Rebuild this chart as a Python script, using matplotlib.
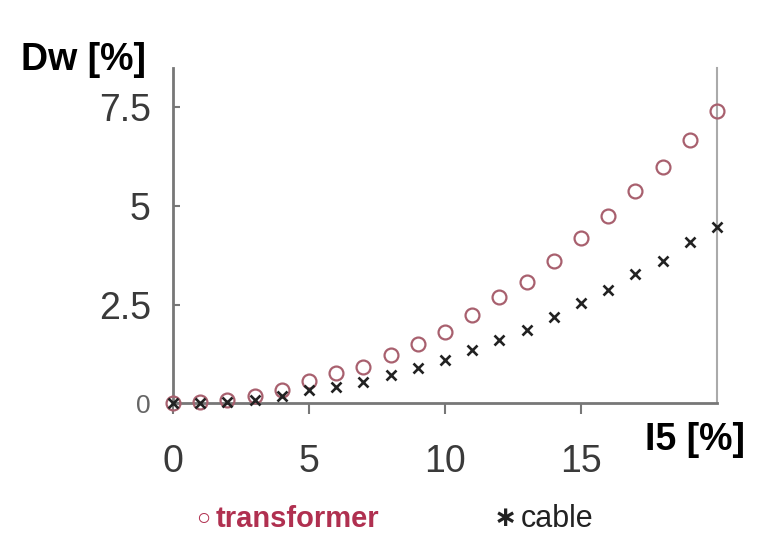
import numpy as np
import matplotlib.pyplot as plt

plt.rcParams['font.family'] = ['Liberation Sans', 'DejaVu Sans']

# I5 [%]
x_vals = [0, 1, 2, 3, 4, 5, 6, 7, 8, 9, 10, 11, 12, 13, 14, 15, 16, 17, 18, 19, 20]
# Dw [%]
transformer = [0.0, 0.05, 0.1, 0.18, 0.35, 0.56, 0.76, 0.92, 1.22, 1.5, 1.82,
               2.25, 2.7, 3.07, 3.6, 4.18, 4.75, 5.38, 6.0, 6.68, 7.4]
cable = [0.0, 0.02, 0.05, 0.1, 0.2, 0.33, 0.41, 0.54, 0.71, 0.89, 1.1,
         1.35, 1.6, 1.86, 2.2, 2.55, 2.88, 3.27, 3.6, 4.08, 4.46]

yticks = [0, 2.5, 5, 7.5]
ytick_labels = ['0', '2.5', '5', '7.5']
xticks = [0, 5, 10, 15]
xtick_labels = ['0', '5', '10', '15']

fig = plt.figure(figsize=(7.62, 5.34), dpi=100)
ax = fig.add_axes([0.227, 0.2444, 0.714, 0.6283])

ax.plot(x_vals, transformer, linestyle='none', marker='o', markersize=10,
        markerfacecolor='none', markeredgecolor='#a8606e', markeredgewidth=1.6,
        clip_on=False, zorder=3)
ax.plot(x_vals, cable, linestyle='none', marker='x', markersize=7,
        color='#222222', markeredgewidth=1.9, clip_on=False, zorder=4)

ax.set_xlim(0, 20)
ax.set_ylim(0, 8.5)

ax.spines['top'].set_visible(False)
for s in ['left', 'bottom']:
    ax.spines[s].set_color('#777777')
    ax.spines[s].set_linewidth(2)
ax.spines['right'].set_color('#aaaaaa')
ax.spines['right'].set_linewidth(1.5)

ax.set_yticks(yticks)
ax.set_yticklabels(ytick_labels)
ax.set_xticks(xticks)
ax.set_xticklabels(xtick_labels)
ax.tick_params(axis='y', direction='in', length=5, width=1.5, color='#777777',
               pad=16, labelsize=27, labelcolor='#3a3a3a')
ax.tick_params(axis='x', direction='out', length=8, width=1.5, color='#777777',
               pad=21, labelsize=27, labelcolor='#3a3a3a')
ax.get_yticklabels()[0].set_fontsize(19)
ax.get_yticklabels()[0].set_color('#666666')

fig.text(0.028, 0.888, 'Dw [%]', fontsize=27, fontweight='bold', ha='left', va='center')
fig.text(0.846, 0.176, 'I5 [%]', fontsize=27, fontweight='bold', ha='left', va='center')

fig.text(0.258, 0.028, '\u25cb', fontsize=17, color='#b03050', ha='left', va='center')
fig.text(0.283, 0.028, 'transformer', fontsize=21, fontweight='bold', color='#b03050',
         ha='left', va='center')
fig.text(0.648, 0.028, '\u2217', fontsize=20, fontweight='bold', color='#222222',
         ha='left', va='center')
fig.text(0.684, 0.028, 'cable', fontsize=22, color='#222222', ha='left', va='center')

fig.savefig('out.png', dpi=100)
